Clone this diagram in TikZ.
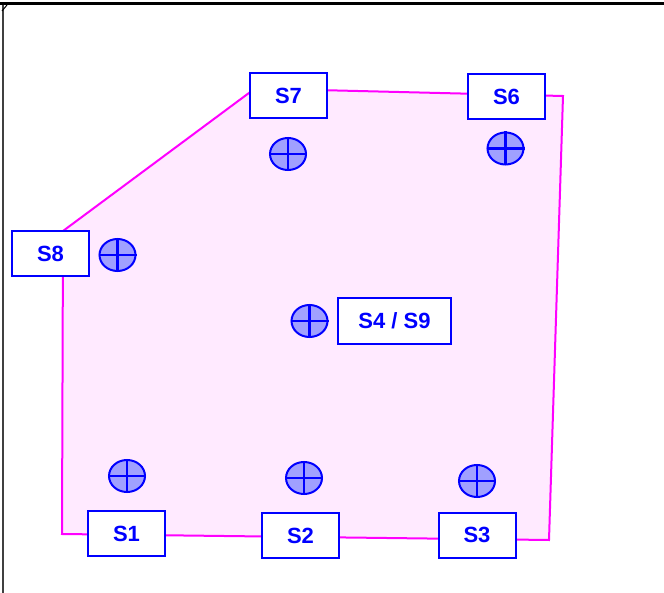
\documentclass[tikz,border=0pt]{standalone}
\usepackage{fontspec}
\setmainfont{Liberation Sans}
\usetikzlibrary{shapes.geometric}
\definecolor{areafill}{RGB}{255,234,255}
\definecolor{areaedge}{RGB}{255,0,255}
\definecolor{sblue}{RGB}{0,0,255}
\definecolor{mfill}{RGB}{160,160,255}
\tikzset{
  sbox/.style={draw=sblue, line width=2pt, fill=white, minimum width=77pt, minimum height=45pt, inner sep=0pt,
    text=sblue, font=\fontsize{22}{26}\selectfont\bfseries},
  wide/.style={minimum width=113pt, minimum height=46pt},
  marker/.style={ellipse, draw=sblue, line width=2pt, fill=mfill, minimum width=36pt, minimum height=32pt, inner sep=0pt},
  cross/.style={draw=sblue, line width=2.6pt},
  edge/.style={draw=areaedge, line width=2pt, fill=areafill}
}
\begin{document}
\begin{tikzpicture}[x=1pt,y=-1pt]
\useasboundingbox (0,0) rectangle (664,593);
% frame
\draw[line width=3pt] (0,4) -- (664,4);
\draw[line width=2.2pt, black!75] (3,5) -- (3,593);
\draw[line width=1pt] (2,11) -- (7,5);
% area
\coordinate (c1) at (62,534);
\coordinate (c2) at (63,231);
\coordinate (c3) at (255,88.5);
\coordinate (c4) at (563,96);
\coordinate (c5) at (549,540);
\path[edge] (c1) -- (c2) -- (c3) -- (c4) -- (c5) -- cycle;
% markers
\foreach \n/\x/\y in {m7/288/154, m6/505.5/148.5, m8/117.5/255, m4/309.5/321, m1/127/476, m2/304/478, m3/477/481}{
  \node[marker] (\n) at (\x,\y) {};
  \draw[cross] (\n.north) -- (\n.south) (\n.west) -- (\n.east);
}
% boxes
\node[sbox] (s7) at (288.5,95.5) {S7};
\node[sbox] (s6) at (506.5,97) {S6};
\node[sbox] (s8) at (50.5,253.5) {S8};
\node[sbox,wide] (s4) at (394.5,321) {S4 / S9};
\node[sbox] (s1) at (126.5,533.5) {S1};
\node[sbox] (s2) at (300.5,535.5) {S2};
\node[sbox] (s3) at (477,535) {S3};
\end{tikzpicture}
\end{document}
